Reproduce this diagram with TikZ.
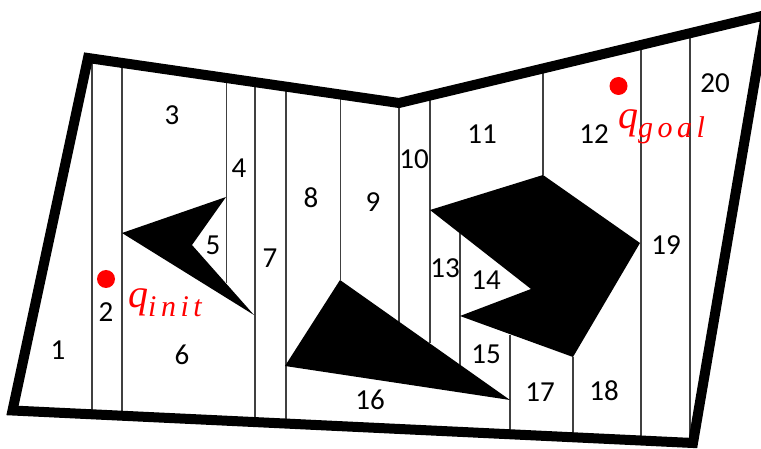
\documentclass[tikz,border=0pt]{standalone}
\usepackage{fontspec}
\setmainfont{Carlito}
\newfontfamily\qmain{Liberation Serif}
\newfontfamily\qsub[LetterSpace=15]{Liberation Serif}
\newcommand{\qlabel}[1]{{\fontsize{40}{40}\qmain\itshape q}{\fontsize{30}{30}\qsub\itshape\raisebox{-8.5pt}{#1}}}
\begin{document}
\begin{tikzpicture}[x=1pt,y=-1pt,
  wall/.style={line width=10pt,miter limit=10,line join=miter},
  cell/.style={line width=1.2pt,black!75},
  obstacle/.style={fill=black},
  lbl/.style={inner sep=0pt,font=\fontsize{29}{29}\selectfont},
  qlbl/.style={inner sep=0pt,text=red},
  dot/.style={circle,fill=red,inner sep=0pt,minimum size=18pt}]
\useasboundingbox (0,0) rectangle (761,449);
\begin{scope}
\clip (0,0) rectangle (761,449);
% cell boundaries
\foreach \x/\a/\b in {92/60/412,122/65/414,226.5/83/283,255/86/418,286/90/420,340.5/99/280,399/103/322,430/100/343,460/233/365,510/335/432,543/73/175,573/357/435,641/50/438,690/38/440}
  \draw[cell] (\x,\a) -- (\x,\b);
% obstacles
\fill[obstacle] (122,233) -- (226,197) -- (192,245) -- (254,315) -- cycle;
\fill[obstacle] (285,366) -- (340,280) -- (510,400) -- cycle;
\fill[obstacle] (430,210) -- (543,175) -- (640,243) -- (573,357) -- (460,316) -- (531,289) -- cycle;
% workspace boundary
\draw[wall] (88,58) -- (399,103) -- (766,15) -- (693,443) -- (12.5,410.5) -- cycle;
\end{scope}
\foreach \n/\x/\y in {1/58/350,2/106/312,3/172/115,4/239/168,5/213/245,6/182/355,7/270/258,8/311/198,9/373/202,10/414/159,11/482/134,12/594/134,13/445/268,14/486/280,15/486/354,16/370/400,17/540/392,18/604/391,19/666/245,20/715/83}
  \node[lbl] (n\n) at (\x,\y) {\n};
\node[dot] (qi) at (106,279) {};
\node[dot] (qg) at (618.5,86) {};
\node[qlbl,anchor=base west] (qinit) at (128,308) {\qlabel{init}};
\node[qlbl,anchor=base west] (qgoal) at (618,129) {\qlabel{goal}};
\end{tikzpicture}
\end{document}
